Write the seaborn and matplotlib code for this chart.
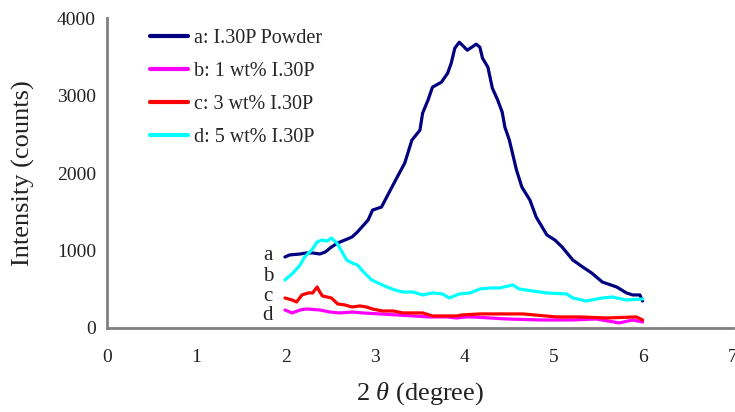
import matplotlib
matplotlib.use("Agg")
import matplotlib.pyplot as plt
import seaborn as sns

# a: I.30P Powder
x_a = [1.99, 2.04, 2.16, 2.23, 2.30, 2.38, 2.44, 2.51, 2.58, 2.66, 2.74, 2.80,
       2.92, 2.97, 3.07, 3.14, 3.24, 3.33, 3.41, 3.50, 3.53, 3.59, 3.64, 3.74,
       3.81, 3.85, 3.89, 3.94, 4.03, 4.13, 4.17, 4.20, 4.26, 4.31, 4.37, 4.42,
       4.45, 4.50, 4.58, 4.64, 4.73, 4.80, 4.92, 5.01, 5.09, 5.21, 5.32, 5.42,
       5.54, 5.70, 5.81, 5.88, 5.96, 5.99]
y_a = [916, 942, 955, 968, 968, 955, 980, 1045, 1097, 1135, 1174, 1238,
       1393, 1522, 1561, 1716, 1935, 2129, 2425, 2554, 2774, 2941, 3109, 3173,
       3290, 3419, 3612, 3689, 3586, 3664, 3625, 3483, 3367, 3096, 2941, 2786,
       2593, 2425, 2038, 1819, 1651, 1432, 1200, 1135, 1045, 877, 787, 710,
       593, 529, 452, 426, 426, 348]

# b: 1 wt% I.30P
x_b = [1.99, 2.07, 2.16, 2.23, 2.38, 2.49, 2.60, 2.75, 2.86, 3.05, 3.24, 3.42,
       3.61, 3.80, 3.91, 4.02, 4.09, 4.47, 4.84, 5.21, 5.47, 5.73, 5.88, 5.99]
y_b = [232, 194, 232, 245, 232, 206, 194, 206, 194, 181, 168, 155,
       142, 142, 129, 142, 142, 116, 103, 103, 116, 65, 103, 77]

# c: 3 wt% I.30P
x_c = [1.99, 2.07, 2.12, 2.18, 2.25, 2.30, 2.35, 2.38, 2.41, 2.51, 2.58, 2.66,
       2.74, 2.83, 2.90, 2.97, 3.08, 3.20, 3.31, 3.42, 3.53, 3.64, 3.80, 3.91,
       3.97, 4.17, 4.65, 5.03, 5.29, 5.59, 5.92, 5.99]
y_c = [387, 361, 335, 426, 452, 452, 529, 464, 413, 387, 310, 297,
       271, 284, 271, 245, 219, 219, 194, 194, 194, 155, 155, 155,
       168, 181, 181, 142, 142, 129, 142, 103]

# d: 5 wt% I.30P
x_d = [1.99, 2.08, 2.16, 2.21, 2.29, 2.35, 2.40, 2.46, 2.51, 2.57, 2.63, 2.68,
       2.74, 2.80, 2.88, 2.96, 3.03, 3.13, 3.22, 3.31, 3.42, 3.53, 3.64, 3.75,
       3.83, 3.94, 4.06, 4.17, 4.28, 4.39, 4.54, 4.61, 4.76, 4.92, 5.14, 5.21,
       5.36, 5.54, 5.65, 5.81, 5.99]
y_d = [619, 710, 813, 916, 1006, 1109, 1135, 1122, 1161, 1097, 980, 877,
       839, 813, 710, 619, 581, 529, 490, 464, 464, 426, 452, 439,
       387, 439, 452, 503, 516, 516, 555, 503, 477, 452, 439, 387,
       348, 387, 400, 361, 374]

series = [
    (x_a, y_a, "#000080", "a: I.30P Powder"),
    (x_b, y_b, "#FF00FF", "b: 1 wt% I.30P"),
    (x_c, y_c, "#FF0000", "c: 3 wt% I.30P"),
    (x_d, y_d, "#00FFFF", "d: 5 wt% I.30P"),
]
tags = ["a", "b", "c", "d"]
tag_y = [940, 660, 400, 155]

sns.set_theme(style="white")
plt.rcParams["font.family"] = ["Liberation Serif", "DejaVu Serif"]
plt.rcParams["mathtext.fontset"] = "custom"
plt.rcParams["mathtext.it"] = "Liberation Serif:italic"

fig = plt.figure(figsize=(7.35, 4.12), dpi=100)
ax = fig.add_axes([0.1456, 0.204, 0.8515, 0.752])

for xs, ys, col, lab in series:
    sns.lineplot(x=xs, y=ys, ax=ax, color=col, linewidth=2.3, label=lab,
                 estimator=None, sort=False)

for t, ty in zip(tags, tag_y):
    ax.text(1.80, ty, t, fontsize=15, ha="center", va="center", color="#222222")

ax.set_xlim(0, 7)
ax.set_ylim(0, 4000)
ax.set_xticks(range(0, 8))
ax.set_yticks(range(0, 4001, 1000))
ax.tick_params(axis="both", direction="in", length=5, width=1.2,
               color="#555555", labelsize=14, pad=15, labelcolor="#222222")
ax.tick_params(axis="y", pad=8)
for side in ["top", "right"]:
    ax.spines[side].set_visible(False)
for side in ["left", "bottom"]:
    ax.spines[side].set_color("#808080")
    ax.spines[side].set_linewidth(2)

ax.set_xlabel(r"2 $\mathit{\theta}$ (degree)", fontsize=19, color="#222222", labelpad=10)
ax.set_ylabel("Intensity (counts)", fontsize=19, color="#222222", labelpad=16)

leg = ax.legend(loc="upper left", bbox_to_anchor=(0.04, 1.025), frameon=False,
                fontsize=14.5, handlelength=1.9, handletextpad=0.3, labelspacing=0.7)
for line in leg.get_lines():
    line.set_linewidth(3)

fig.savefig("out.png", dpi=100)
